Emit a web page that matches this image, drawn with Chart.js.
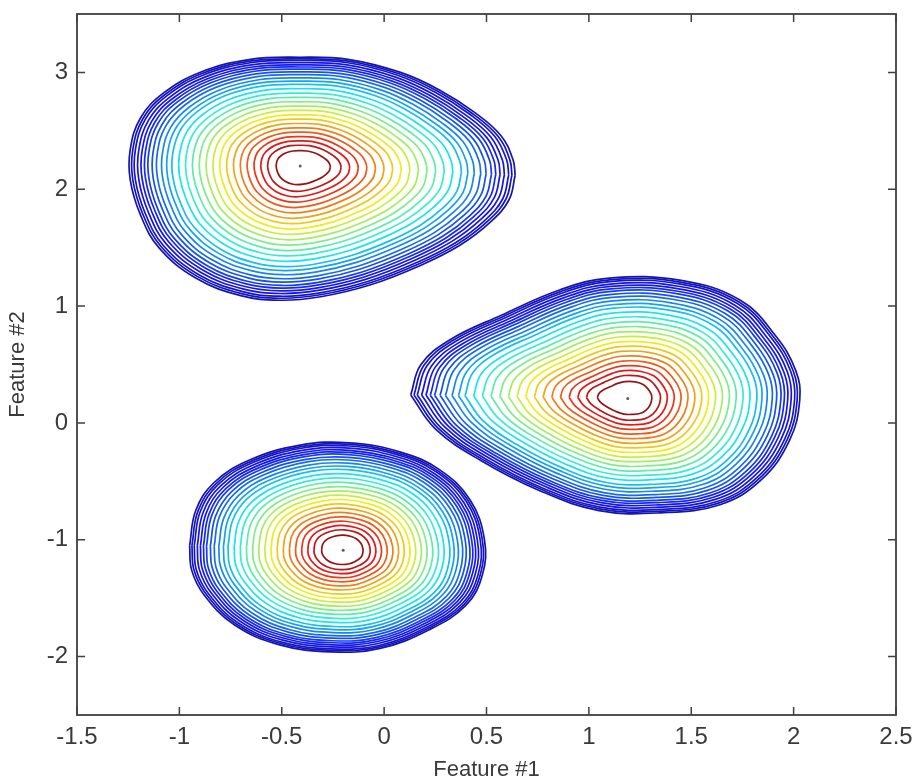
<!DOCTYPE html>
<html>
<head>
<meta charset="utf-8">
<title>Feature contours</title>
<script src="https://cdn.jsdelivr.net/npm/chart.js@4.4.1/dist/chart.umd.min.js"></script>
<style>
    html, body { margin: 0; padding: 0; background: #fff; }
    #wrap { width: 916px; height: 780px; }
</style>
</head>
<body>
<div id="wrap"><canvas id="contourChart" width="916" height="780"></canvas></div>
<script>
// Axis ticks
const xTickValues = [-1.5, -1, -0.5, 0, 0.5, 1, 1.5, 2, 2.5];
const yTickValues = [-2, -1, 0, 1, 2, 3];

// Peak of each cluster (the small dot in the middle)
const centerA = [-0.41, 2.20];
const centerB = [1.19, 0.21];
const centerC = [-0.20, -1.09];

// Outermost contour of each cluster
const outlineAX = [0.64, 0.61, 0.52, 0.37, 0.18, -0.07, -0.31, -0.51, -0.70, -0.92, -1.10, -1.19, -1.24, -1.24, -1.19, -1.08, -0.90, -0.66, -0.41, -0.17, 0.08, 0.27, 0.44, 0.57, 0.63];
const outlineAY = [2.12, 1.91, 1.72, 1.52, 1.35, 1.18, 1.08, 1.05, 1.09, 1.24, 1.50, 1.78, 2.08, 2.34, 2.61, 2.82, 3.00, 3.11, 3.13, 3.11, 3.00, 2.85, 2.66, 2.46, 2.25];

const outlineBX = [0.13, 0.18, 0.32, 0.57, 0.86, 1.10, 1.45, 1.74, 1.91, 2.01, 2.03, 1.98, 1.84, 1.64, 1.35, 1.05, 0.76, 0.47, 0.25];
const outlineBY = [0.24, 0.50, 0.71, 0.92, 1.14, 1.24, 1.22, 1.05, 0.75, 0.45, 0.20, -0.15, -0.49, -0.70, -0.77, -0.75, -0.58, -0.32, -0.05];

const outlineCX = [-0.95, -0.92, -0.83, -0.66, -0.41, -0.17, 0.08, 0.27, 0.42, 0.49, 0.48, 0.40, 0.22, -0.02, -0.26, -0.51, -0.73, -0.88, -0.94];
const outlineCY = [-1.05, -0.75, -0.51, -0.32, -0.19, -0.17, -0.25, -0.40, -0.66, -1.00, -1.30, -1.56, -1.77, -1.93, -1.96, -1.90, -1.73, -1.47, -1.26];

// Contour levels: how far each ring sits between the peak (0) and the outer ring (1), inner to outer
const levelFractions = [0.14, 0.19, 0.23, 0.27, 0.31, 0.35, 0.39, 0.43, 0.47, 0.51, 0.55, 0.59, 0.63, 0.67, 0.71, 0.75, 0.78, 0.81, 0.84, 0.865, 0.89, 0.91, 0.93, 0.95, 0.97, 0.985, 1.0];

const fontFamily = "'Liberation Sans', Arial, sans-serif";
const textColor = '#3a3a3a';
const frameColor = '#404040';

// MATLAB jet colormap (t = 0 dark blue .. 1 dark red), slightly washed out like the jpeg
function jetColor(t) {
    const c = v => Math.round(0.85 * 255 * Math.max(0, Math.min(1, v)) + 0.15 * 140);
    const r = c(1.5 - Math.abs(4 * t - 3));
    const g = c(1.5 - Math.abs(4 * t - 2));
    const b = c(1.5 - Math.abs(4 * t - 1));
    return `rgb(${r}, ${g}, ${b})`;
}

// One closed line dataset per contour ring
function buildRings(center, outX, outY) {
    return levelFractions.map(s => {
        const pts = outX.map((x, k) => ({
            x: center[0] + s * (x - center[0]),
            y: center[1] + s * (outY[k] - center[1])
        }));
        pts.push(pts[0]);
        return {
            data: pts,
            showLine: true,
            borderColor: jetColor(0.98 - (s - 0.14) * 1.08),
            borderWidth: 1.7,
            pointRadius: 0,
            tension: 0.4,
            fill: false
        };
    });
}

const datasets = [
    ...buildRings(centerA, outlineAX, outlineAY),
    ...buildRings(centerB, outlineBX, outlineBY),
    ...buildRings(centerC, outlineCX, outlineCY),
    {
        data: [centerA, centerB, centerC].map(c => ({ x: c[0], y: c[1] })),
        showLine: false,
        pointRadius: 1.5,
        pointBackgroundColor: '#6a5a60',
        pointBorderWidth: 0
    }
];

// Box round the axes with MATLAB style inward ticks on all four sides
const boxPlugin = {
    id: 'matlabBox',
    afterDraw(chart) {
        const { ctx, chartArea: a, scales } = chart;
        const len = 8;
        ctx.save();
        ctx.strokeStyle = frameColor;
        ctx.lineWidth = 1.8;
        ctx.strokeRect(a.left, a.top, a.right - a.left, a.bottom - a.top);
        ctx.lineWidth = 1.5;
        ctx.beginPath();
        xTickValues.forEach(v => {
            const px = scales.x.getPixelForValue(v);
            ctx.moveTo(px, a.bottom); ctx.lineTo(px, a.bottom - len);
            ctx.moveTo(px, a.top); ctx.lineTo(px, a.top + len);
        });
        yTickValues.forEach(v => {
            const py = scales.y.getPixelForValue(v);
            ctx.moveTo(a.left, py); ctx.lineTo(a.left + len, py);
            ctx.moveTo(a.right, py); ctx.lineTo(a.right - len, py);
        });
        ctx.stroke();
        ctx.restore();
    }
};

new Chart(document.getElementById('contourChart'), {
    type: 'scatter',
    data: { datasets: datasets },
    options: {
        responsive: false,
        animation: false,
        devicePixelRatio: 1,
        layout: { padding: { left: 0, top: 14, right: 20, bottom: 0 } },
        plugins: {
            legend: { display: false },
            tooltip: { enabled: false }
        },
        scales: {
            x: {
                type: 'linear',
                position: 'bottom',
                min: -1.5,
                max: 2.5,
                grid: { display: false, drawTicks: false },
                border: { display: false },
                afterBuildTicks: scale => { scale.ticks = xTickValues.map(v => ({ value: v })); },
                afterFit: scale => {
                    scale.height = 65;
                    scale.paddingLeft = 0;
                    scale.paddingRight = 0;
                },
                ticks: {
                    font: { family: fontFamily, size: 24 },
                    color: textColor,
                    padding: 8,
                    maxRotation: 0,
                    callback: v => String(v)
                },
                title: {
                    display: true,
                    text: 'Feature #1',
                    color: textColor,
                    font: { family: fontFamily, size: 22 },
                    padding: { top: 0, bottom: -3 }
                }
            },
            y: {
                type: 'linear',
                position: 'left',
                min: -2.5,
                max: 3.5,
                grid: { display: false, drawTicks: false },
                border: { display: false },
                afterBuildTicks: scale => { scale.ticks = yTickValues.map(v => ({ value: v })); },
                afterFit: scale => {
                    scale.width = 77;
                    scale.paddingTop = 0;
                    scale.paddingBottom = 0;
                },
                ticks: {
                    font: { family: fontFamily, size: 24 },
                    color: textColor,
                    padding: 9,
                    callback: v => String(v)
                },
                title: {
                    display: true,
                    text: 'Feature #2',
                    color: textColor,
                    font: { family: fontFamily, size: 22 },
                    padding: { top: 5, bottom: 0 }
                }
            }
        }
    },
    plugins: [boxPlugin]
});
</script>
</body>
</html>
